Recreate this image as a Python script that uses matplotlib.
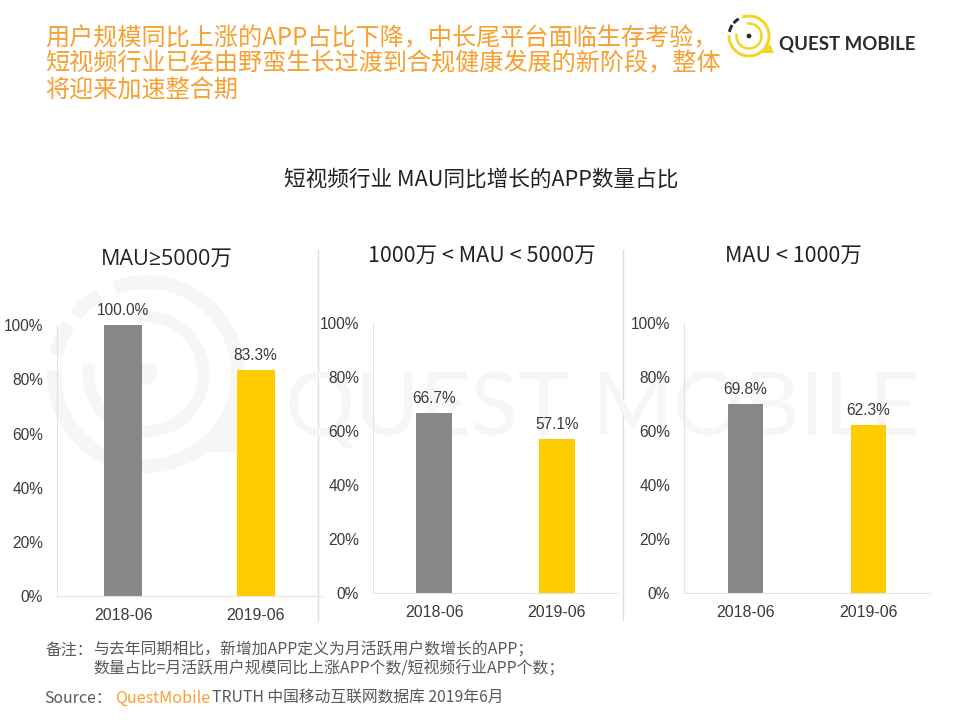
import matplotlib
matplotlib.use("Agg")
import matplotlib.pyplot as plt
from matplotlib.patches import Arc, Circle, Polygon

plt.rcParams["font.family"] = ["Noto Sans CJK SC", "DejaVu Sans"]

W, H = 960, 720

categories = ["2018-06", "2019-06"]
panel_titles = ["MAU≥5000万", "1000万 < MAU < 5000万", "MAU < 1000万"]
panel_values = [[100.0, 83.3], [66.7, 57.1], [69.8, 62.3]]
y_ticks = [0, 20, 40, 60, 80, 100]
bar_colors = ["#878787", "#FFCC00"]

headline = [
    "用户规模同比上涨的APP占比下降，中长尾平台面临生存考验，",
    "短视频行业已经由野蛮生长过渡到合规健康发展的新阶段，整体",
    "将迎来加速整合期",
]
chart_title = "短视频行业 MAU同比增长的APP数量占比"
notes = [
    "与去年同期相比，新增加APP定义为月活跃用户数增长的APP；",
    "数量占比=月活跃用户规模同比上涨APP个数/短视频行业APP个数；",
]

ORANGE = "#F7A030"
TEXT = "#3A3A3A"
NOTE = "#595959"
LINE = "#E3E3E3"
MARK = "#F6F6F6"


def px_axes(fig, left, top, right, bottom):
    return fig.add_axes([left / W, 1 - bottom / H, (right - left) / W, (bottom - top) / H])


def ring(ax, cx, cy, r, a1, a2, color, lw):
    # page layer has y flipped, so angles run the other way
    ax.add_patch(Arc((cx, cy), 2 * r, 2 * r, theta1=-a2, theta2=-a1, color=color, lw=lw, capstyle="butt"))


def logo(ax, cx, cy, s, ring_color, dark_color):
    lw = 3 * s * 0.72
    ring(ax, cx, cy, 20 * s, 178, 470, ring_color, lw)
    ring(ax, cx, cy, 12.5 * s, 170, 460, ring_color, lw * 0.85)
    ring(ax, cx, cy, 20 * s, 121, 140, dark_color, lw)
    ring(ax, cx, cy, 20 * s, 147, 168, dark_color, lw)
    ax.add_patch(Circle((cx, cy), 2.4 * s, color=dark_color, lw=0))
    tail = [[cx + 21 * s, cy + 8 * s], [cx + 25 * s, cy + 17 * s], [cx + 11 * s, cy + 17 * s]]
    ax.add_patch(Polygon(tail, color=ring_color, lw=0))


fig = plt.figure(figsize=(9.6, 7.2), dpi=100, facecolor="white")

# page layer in pixel coordinates: watermark, logo, dividers, text
bg = fig.add_axes([0, 0, 1, 1], zorder=0)
bg.set_xlim(0, W)
bg.set_ylim(H, 0)
bg.axis("off")

# watermark
logo(bg, 146, 374, 4.6, MARK, MARK)
bg.text(285, 411, "QUEST MOBILE", family="Lato", fontsize=63, color=MARK, va="center", ha="left")

# logo
logo(bg, 749, 36, 1, "#F5D327", "#2B2B2B")
bg.text(779, 44, "QUEST MOBILE", family="Lato", fontweight="bold", fontsize=13.4, color="#2B2B2B",
        va="center", ha="left")

# dividers
bg.plot([317.5, 317.5], [250, 620], color="#DDDDDD", lw=1)
bg.plot([622.7, 622.7], [250, 620], color="#DDDDDD", lw=1)

# headline
for y, line in zip([38, 63, 91], headline):
    bg.text(45, y, line, fontsize=17.4, color=ORANGE, va="center", ha="left")

bg.text(481, 180, chart_title, fontsize=15.6, color="#222222", va="center", ha="center")

# panels: axes box, title centre and title y in pixels
boxes = [(57, 325, 322, 596.3), (373, 322.7, 618, 593), (684, 322.7, 930, 593)]
title_pos = [(167, 259), (482, 256), (793, 256)]

for box, pos, name, values in zip(boxes, title_pos, panel_titles, panel_values):
    ax = px_axes(fig, *box)
    ax.patch.set_alpha(0)
    ax.set_zorder(1)
    bars = ax.bar(categories, values, width=0.29, color=bar_colors)
    ax.bar_label(bars, fmt="%.1f%%", padding=5, fontsize=11.2, color=TEXT, family="Liberation Sans")
    ax.set_xlim(-0.5, 1.5)
    ax.set_ylim(0, 100)
    ax.set_yticks(y_ticks, [f"{v}%" for v in y_ticks])
    for s in ["top", "right"]:
        ax.spines[s].set_visible(False)
    for s in ["left", "bottom"]:
        ax.spines[s].set_color(LINE)
    ax.tick_params(axis="y", length=0, pad=10, labelsize=11.2, labelcolor=TEXT)
    ax.tick_params(axis="x", length=0, pad=8.5, labelsize=11.5, labelcolor=TEXT)
    for lab in ax.get_xticklabels() + ax.get_yticklabels():
        lab.set_family("Liberation Sans")
    # the CJK face draws a very wide ≥, so take the latin part from Open Sans
    bg.text(pos[0], pos[1], name, fontsize=15.5, color="#222222", va="center", ha="center",
            family=["Open Sans", "Noto Sans CJK SC"] if "≥" in name else None)

# footnotes
bg.text(46, 650, "备注：", fontsize=11.4, color=NOTE, va="center", ha="left")
bg.text(93, 650, notes[0], fontsize=11.4, color=NOTE, va="center", ha="left")
bg.text(93, 669, notes[1], fontsize=11.4, color=NOTE, va="center", ha="left")
bg.text(44, 698, "Source：", fontsize=11.4, color=NOTE, va="center", ha="left")
bg.text(115, 698, "QuestMobile", fontsize=11.6, color=ORANGE, va="center", ha="left")
bg.text(212, 698, "TRUTH 中国移动互联网数据库 2019年6月", fontsize=11.35, color=NOTE, va="center", ha="left")

fig.savefig("out.png", dpi=100)
plt.close(fig)
